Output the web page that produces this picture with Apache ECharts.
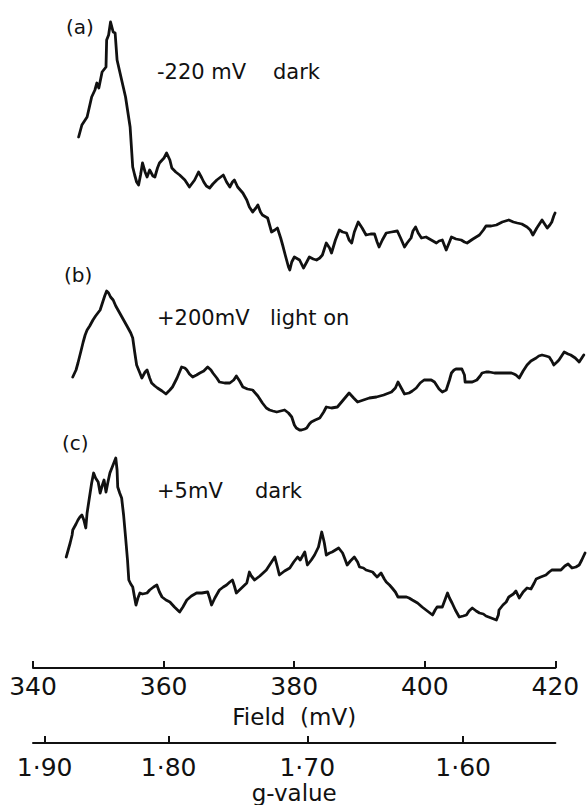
<!DOCTYPE html>
<html>
<head>
<meta charset="utf-8">
<title>EPR spectra</title>
<script src="https://cdn.jsdelivr.net/npm/echarts@6.0.0/dist/echarts.min.js"></script>
<style>
  html, body { margin: 0; padding: 0; background: #fff; }
  #chart { width: 587px; height: 805px; }
</style>
</head>
<body>
<div id="chart"></div>
<script>
// Spectrum (a): -220 mV, dark. Field in mV, signal in arbitrary units.
const fieldA = [347.0,347.5,348.3,349.0,349.5,349.8,350.1,350.6,351.2,351.3,351.6,351.9,352.3,352.6,352.9,353.6,354.2,354.9,355.3,355.6,355.9,356.2,356.5,356.8,357.2,357.5,357.9,358.4,358.7,359.1,359.4,360.1,360.5,361.0,361.3,361.9,362.5,363.3,364.0,364.8,365.4,365.9,366.2,366.6,367.1,367.6,368.2,368.6,369.2,369.7,370.2,370.6,370.9,371.4,372.2,372.8,373.2,373.7,374.2,374.5,374.9,375.2,376.0,376.6,377.1,377.5,378.0,378.3,378.7,379.2,379.4,379.7,380.1,380.9,381.5,382.0,382.4,383.0,383.5,384.0,384.4,384.7,385.0,385.5,385.8,386.4,387.0,387.5,388.1,388.5,388.9,389.3,389.9,390.5,391.1,391.8,392.4,392.8,393.1,393.6,394.2,395.0,395.9,396.4,397.0,397.4,398.0,398.3,398.7,399.1,399.6,400.3,401.1,401.9,402.3,402.8,403.1,403.4,403.9,404.2,404.9,405.7,406.2,406.6,407.5,408.5,409.1,409.5,410.3,411.1,412.0,413.0,413.7,414.3,415.0,415.8,416.3,416.7,417.3,418.1,418.6,418.9,419.3,419.6,419.9,420.1];
const signalA = [6.3,7.5,8.3,10.3,11.0,11.7,11.2,12.8,13.3,16.0,16.5,17.8,16.8,16.7,14.0,12.0,10.3,7.3,3.3,2.5,1.8,1.5,2.5,3.7,2.8,2.3,3.0,2.4,2.3,3.2,3.7,4.2,4.7,4.0,3.2,2.8,2.5,2.0,1.3,2.0,2.8,2.2,1.8,1.4,1.2,1.6,2.0,2.2,2.5,1.8,1.3,1.8,2.0,1.3,0.7,0.0,-0.7,-1.2,-0.8,-0.5,-1.2,-1.5,-1.8,-3.2,-3.0,-2.8,-3.8,-4.5,-5.5,-6.7,-7.0,-6.2,-5.7,-6.0,-6.8,-6.2,-5.7,-5.9,-6.0,-5.8,-5.5,-4.9,-4.3,-4.8,-5.3,-4.0,-3.0,-3.2,-3.3,-4.0,-4.3,-3.2,-2.2,-2.8,-3.5,-3.4,-3.4,-4.2,-4.7,-4.0,-3.3,-3.2,-3.1,-3.8,-4.7,-4.3,-3.8,-3.1,-2.7,-3.3,-3.8,-3.7,-4.0,-4.3,-4.1,-4.0,-4.5,-5.0,-4.2,-3.7,-3.9,-4.0,-4.2,-4.3,-3.9,-3.5,-3.0,-2.6,-2.6,-2.5,-2.2,-2.0,-2.2,-2.3,-2.4,-2.7,-3.0,-3.5,-2.8,-2.0,-2.5,-2.8,-2.5,-2.2,-1.6,-1.3];

// Spectrum (b): +200 mV, light on.
const fieldB = [346.1,346.6,346.9,347.4,347.7,348.0,348.3,348.7,349.2,349.6,350.3,350.7,351.0,351.3,351.6,351.9,352.3,352.7,353.3,353.9,354.5,355.0,355.3,355.6,355.9,356.4,356.7,357.2,357.5,357.9,358.2,358.7,359.1,359.8,360.4,361.0,361.4,362.1,362.8,363.3,363.6,364.0,364.5,365.1,365.6,366.2,366.8,367.3,367.6,368.2,368.6,369.4,370.2,370.8,371.2,371.7,372.2,372.9,373.7,374.5,375.2,375.8,376.3,376.8,377.4,378.0,378.6,379.2,379.7,380.1,380.4,380.9,381.2,381.7,382.0,382.4,382.7,383.3,384.0,384.6,385.0,385.8,386.7,387.6,388.5,389.2,389.8,390.7,391.6,392.7,393.8,395.0,395.6,396.0,396.5,397.0,397.7,398.2,398.8,399.4,400.0,400.6,401.1,401.6,401.9,402.3,402.8,403.4,403.9,404.2,404.6,404.9,405.4,405.8,406.2,406.3,406.9,407.4,408.1,408.6,408.9,409.5,410.0,410.8,411.5,412.4,413.4,413.8,414.1,414.6,415.2,415.8,416.4,417.2,417.6,418.1,418.7,419.2,419.6,419.9,420.4,420.7,421.2,421.5,422.1,422.5,423.2,423.8,424.2,424.5];
const signalB = [0.3,1.0,1.7,3.0,3.8,4.5,5.0,5.4,6.0,6.4,7.0,7.8,8.4,8.9,8.7,8.3,8.0,7.4,6.7,6.0,5.3,4.7,4.2,2.8,1.5,0.7,0.2,0.8,1.0,0.2,-0.3,-0.6,-0.8,-1.1,-1.4,-1.0,-0.7,0.2,1.3,1.2,1.0,0.6,0.3,0.5,0.7,0.9,1.3,1.0,0.7,0.2,-0.2,-0.3,-0.3,0.0,0.4,-0.1,-0.7,-0.9,-1.0,-1.6,-2.3,-2.8,-3.0,-3.1,-3.2,-3.1,-3.0,-3.3,-3.7,-4.5,-4.8,-5.0,-5.0,-4.9,-4.8,-4.4,-4.2,-4.0,-3.8,-3.2,-2.7,-2.8,-2.7,-2.0,-1.3,-1.8,-2.2,-2.0,-1.8,-1.7,-1.5,-1.2,-0.8,-0.2,-0.8,-1.4,-1.3,-1.1,-0.8,-0.3,0.0,0.0,0.0,-0.2,-0.5,-0.9,-1.2,-1.0,0.0,0.7,1.0,1.1,1.1,1.1,0.5,-0.2,-0.2,-0.2,0.0,0.4,0.7,0.8,0.8,0.7,0.7,0.7,0.7,0.6,0.5,0.2,0.9,1.5,1.9,2.2,2.4,2.5,2.4,2.3,1.9,1.5,1.8,2.0,2.5,2.8,2.6,2.5,2.2,1.8,2.2,2.5];

// Spectrum (c): +5 mV, dark.
const fieldC = [345.1,345.4,345.7,346.0,346.1,346.6,346.9,347.2,347.5,347.8,348.1,348.3,348.6,349.0,349.3,349.6,350.0,350.3,350.6,350.9,351.2,351.5,351.8,352.1,352.4,352.7,352.9,353.0,353.3,353.6,353.9,354.2,354.5,354.7,355.0,355.3,355.6,355.8,356.1,356.4,356.8,357.5,357.9,358.5,359.0,359.4,359.8,360.4,361.0,361.7,362.5,363.0,363.6,364.3,365.1,365.9,366.8,367.1,367.4,367.9,368.6,369.2,369.7,370.2,370.6,370.9,371.2,372.0,372.8,373.2,373.5,374.0,374.8,375.8,376.4,377.1,377.5,377.8,378.6,379.4,380.0,380.6,381.0,381.7,382.1,382.7,383.2,383.8,384.1,384.3,384.6,384.7,385.0,385.5,385.9,386.4,386.9,387.5,387.8,388.2,388.7,389.3,389.8,390.1,390.7,391.1,391.6,392.1,392.5,392.8,393.4,393.9,394.2,394.7,395.1,395.6,396.0,396.7,397.3,397.7,398.2,399.0,399.7,400.5,401.3,401.7,402.0,402.5,402.8,403.2,403.6,403.9,404.3,404.8,405.4,406.0,406.5,406.9,407.4,408.0,408.5,409.1,409.5,410.3,411.1,411.4,411.5,412.1,412.6,413.0,413.7,414.1,414.6,415.2,415.8,416.4,416.9,417.2,417.9,418.7,419.2,419.6,420.4,421.0,421.6,422.1,422.7,423.3,423.8,424.2,424.7];
const signalC = [2.3,3.0,3.7,4.5,5.0,5.6,6.0,6.3,6.5,6.0,5.2,6.7,8.0,9.7,10.7,10.2,9.8,8.7,9.4,10.0,8.8,9.8,10.7,11.2,11.7,12.2,11.0,9.3,8.7,8.2,6.5,4.3,2.0,0.0,-0.4,-0.7,-1.8,-2.5,-1.8,-1.3,-1.4,-1.3,-1.0,-0.7,-0.5,-1.2,-1.7,-2.0,-2.2,-2.7,-3.2,-2.7,-2.0,-1.6,-1.3,-1.3,-1.2,-1.8,-2.5,-1.8,-1.0,-0.7,-0.5,-0.2,0.0,-0.6,-1.3,-0.8,-0.3,0.8,0.4,0.0,0.4,1.0,1.6,2.3,1.3,0.5,0.9,1.2,1.8,2.3,2.0,2.8,1.5,2.0,2.5,3.3,4.2,4.8,4.0,3.7,2.5,2.7,2.8,3.0,3.2,2.7,2.2,1.5,1.9,2.3,1.8,1.3,1.2,1.0,0.9,0.8,0.5,0.3,0.7,0.1,-0.2,-0.5,-0.8,-1.2,-1.7,-1.7,-1.7,-1.8,-2.0,-2.3,-2.7,-3.1,-3.5,-3.0,-2.7,-2.7,-2.7,-2.0,-1.3,-1.8,-2.3,-3.0,-3.7,-3.6,-3.5,-3.1,-2.8,-3.1,-3.3,-3.4,-3.6,-3.8,-4.0,-3.5,-3.0,-2.5,-2.2,-1.7,-1.4,-1.1,-1.8,-1.2,-0.8,-0.9,-0.3,0.1,0.3,0.5,0.8,1.0,1.0,1.0,1.4,1.6,1.2,1.3,1.5,2.0,2.7];

// Axis tick values
const fieldTicks = [340, 360, 380, 400, 420];
const gTicks = [1.90, 1.80, 1.70, 1.60];
// g = G_FIELD / B  (B in the field units of the bottom axis)
const G_FIELD = 649.4;

const pairs = (xs, ys) => xs.map((x, i) => [x, ys[i]]);

const FONT = 'DejaVu Sans';
const INK = '#111';
const PX_PER_UNIT = 6.53;   // horizontal scale shared by every grid
const LEFT = 33;
const DATA_MAX = 425;
const AXIS_MIN = 340, AXIS_MAX = 420;

const dataWidth = (DATA_MAX - AXIS_MIN) * PX_PER_UNIT;
const axisWidth = (AXIS_MAX - AXIS_MIN) * PX_PER_UNIT;

const traceGrid = (top) => ({ left: LEFT, top: top, width: dataWidth, height: 300 });
const hiddenX = (grid) => ({ type: 'value', gridIndex: grid, min: AXIS_MIN, max: DATA_MAX, show: false });
const hiddenY = (grid) => ({ type: 'value', gridIndex: grid, min: -10, max: 20, show: false });

const gLabel = (v) => (G_FIELD / v).toFixed(2).replace('.', '·');

const chart = echarts.init(document.getElementById('chart'), null, { renderer: 'svg' });

const textEl = (x, y, text, size) => ({
  type: 'text', x: x, y: y, silent: true,
  style: { text: text, fill: INK, font: size + 'px "' + FONT + '"', verticalAlign: 'middle', align: 'left' }
});

chart.setOption({
  animation: false,
  backgroundColor: '#fff',
  grid: [
    traceGrid(0),
    traceGrid(180),
    traceGrid(380),
    { left: LEFT, top: 605, width: axisWidth, height: 63 },
    { left: LEFT, top: 690, width: axisWidth, height: 63 }
  ],
  xAxis: [
    hiddenX(0), hiddenX(1), hiddenX(2),
    {
      type: 'value', gridIndex: 3, min: AXIS_MIN, max: AXIS_MAX, interval: 20,
      axisLine: { show: true, lineStyle: { color: INK, width: 2 } },
      axisTick: { show: true, inside: true, length: 7, lineStyle: { color: INK, width: 2 } },
      axisLabel: { show: true, color: INK, fontFamily: FONT, fontSize: 25, margin: 6,
                   showMinLabel: true, showMaxLabel: true, customValues: fieldTicks },
      splitLine: { show: false },
      name: 'Field  (mV)', nameLocation: 'middle', nameGap: 37,
      nameTextStyle: { color: INK, fontFamily: FONT, fontSize: 23 }
    },
    {
      type: 'value', gridIndex: 4, min: AXIS_MIN, max: AXIS_MAX,
      axisLine: { show: true, lineStyle: { color: INK, width: 2 } },
      axisTick: { show: true, inside: true, length: 7, lineStyle: { color: INK, width: 2 },
                  customValues: gTicks.map(g => G_FIELD / g) },
      axisLabel: { show: true, color: INK, fontFamily: FONT, fontSize: 25, margin: 12,
                   customValues: gTicks.map(g => G_FIELD / g), formatter: gLabel },
      splitLine: { show: false },
      name: 'g-value', nameLocation: 'middle', nameGap: 35,
      nameTextStyle: { color: INK, fontFamily: FONT, fontSize: 23 }
    }
  ],
  yAxis: [
    hiddenY(0), hiddenY(1), hiddenY(2),
    { type: 'value', gridIndex: 3, show: false },
    { type: 'value', gridIndex: 4, show: false }
  ],
  series: [
    [fieldA, signalA], [fieldB, signalB], [fieldC, signalC]
  ].map((s, i) => ({
    type: 'line', xAxisIndex: i, yAxisIndex: i,
    data: pairs(s[0], s[1]),
    showSymbol: false, smooth: false, silent: true,
    lineStyle: { color: INK, width: 2.8, join: 'round', cap: 'round' }
  })),
  graphic: [
    textEl(66, 27, '(a)', 20),
    textEl(157, 72, '-220 mV', 21),
    textEl(273, 72, 'dark', 21),
    textEl(64, 275, '(b)', 20),
    textEl(157, 318, '+200mV', 21),
    textEl(270, 318, 'light on', 21),
    textEl(62, 443, '(c)', 20),
    textEl(157, 491, '+5mV', 21),
    textEl(255, 491, 'dark', 21)
  ]
});
</script>
</body>
</html>
